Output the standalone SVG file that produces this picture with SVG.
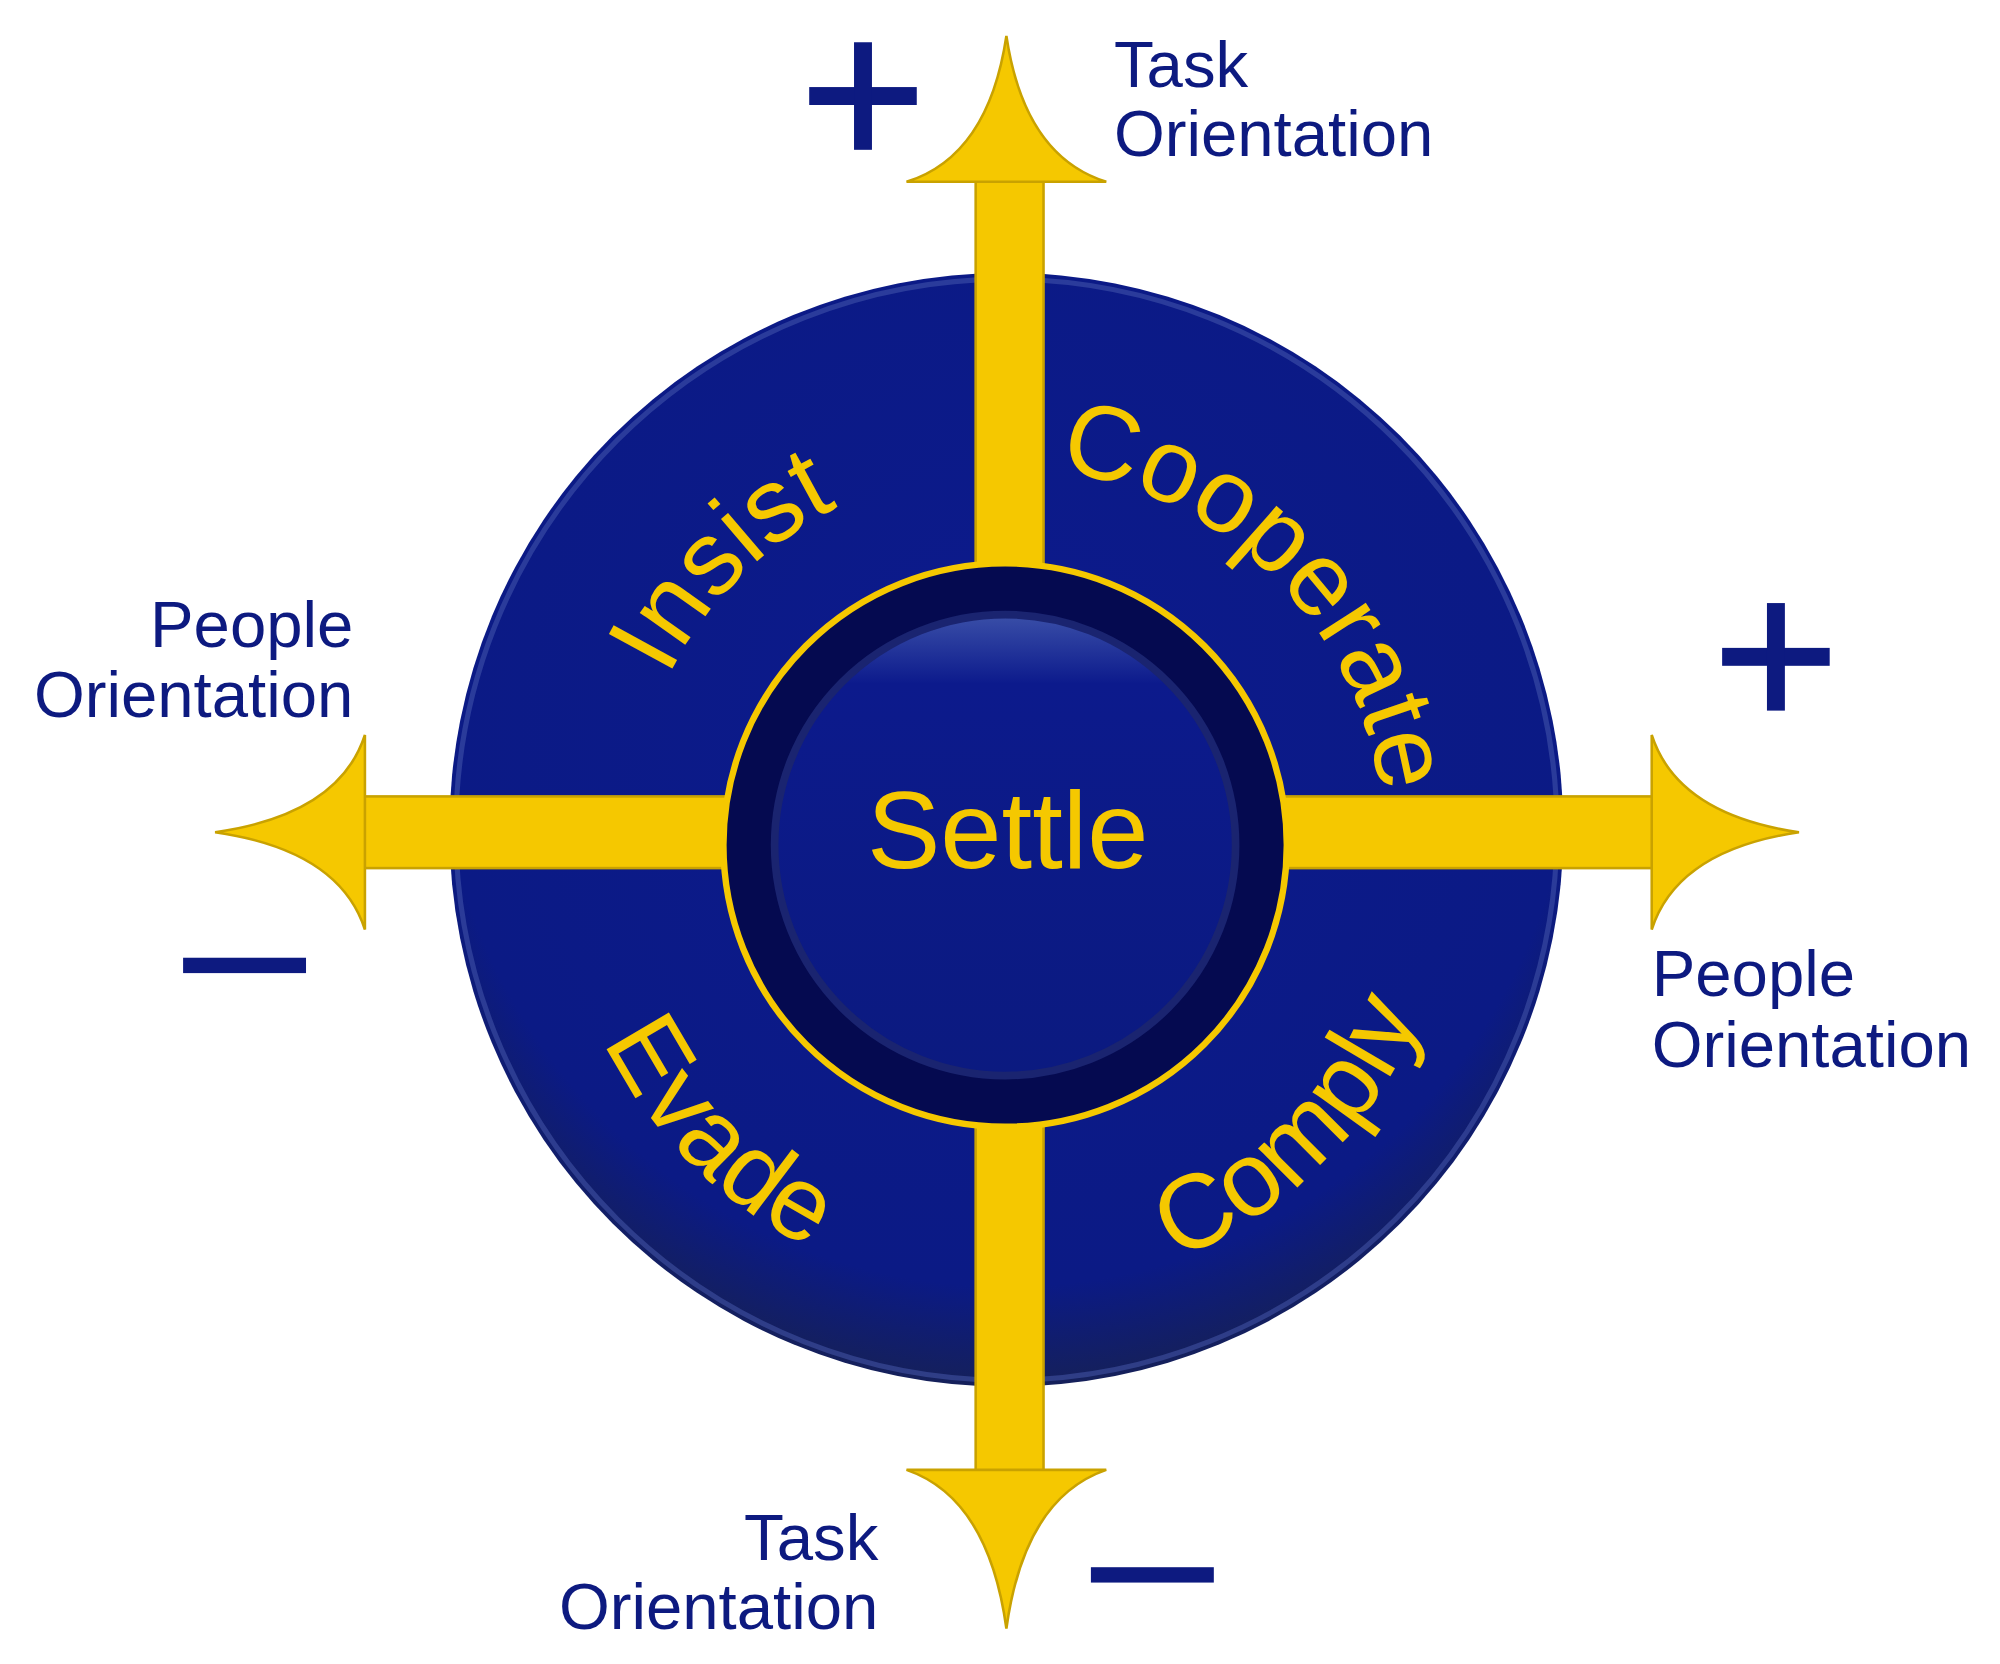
<svg xmlns="http://www.w3.org/2000/svg" width="2000" height="1664" viewBox="0 0 2000 1664">
<style>
.lbl{font-family:"Liberation Sans",Arial,sans-serif;font-size:51px;fill:#0d1a80}
.arc{font-family:"Liberation Sans",Arial,sans-serif;font-size:82px;fill:#f5c800}
.sign{fill:#0d1a80}
.yel{fill:#f5c800;stroke:#c9a200;stroke-width:2}
</style>
<defs>
<radialGradient id="disc" cx="50%" cy="40%" r="60%">
<stop offset="0" stop-color="#0c1a8c"/><stop offset="0.85" stop-color="#0b1a85"/><stop offset="1" stop-color="#15205a"/>
</radialGradient>
<linearGradient id="btn" x1="0" y1="0" x2="0" y2="1">
<stop offset="0" stop-color="#3a4fa8"/><stop offset="0.15" stop-color="#0c1a8c"/><stop offset="1" stop-color="#0b1a80"/>
</linearGradient>
<path id="pInsist" d="M491,660 A295,295 0 0 1 786,365"/>
<path id="pCoop" d="M786,365 A295,295 0 0 1 1081,660"/>
<path id="pEvade" d="M436,660 A350,350 0 0 0 786,1010"/>
<path id="pComply" d="M786,1010 A350,350 0 0 0 1136,660"/>
</defs>
<g transform="scale(1.2804)">
<g id="disc-node">
<circle cx="786" cy="648" r="435" fill="url(#disc)"/>
<circle cx="786" cy="648" r="430" fill="none" stroke="#4a5cb0" stroke-width="4" opacity="0.5"/>
</g>
<g id="connectors">
<rect class="yel" x="762" y="140" width="53" height="1012"/>
<rect class="yel" x="283" y="622" width="1010" height="56"/>
<path class="yel" d="M786,28 Q772,122 708,142 L864,142 Q800,122 786,28 Z"/>
<path class="yel" d="M786,1272 Q772,1170 708,1148 L864,1148 Q800,1170 786,1272 Z"/>
<path class="yel" d="M168,650 Q265,636 285,574 L285,726 Q265,664 168,650 Z"/>
<path class="yel" d="M1405,650 Q1310,636 1290,574 L1290,726 Q1310,664 1405,650 Z"/>
</g>
<g id="settle">
<circle cx="785" cy="660" r="220" fill="#050a50" stroke="#f5c800" stroke-width="5"/>
<circle cx="785" cy="660" r="180" fill="url(#btn)" stroke="#1a2470" stroke-width="6"/>
<text x="787" y="678" text-anchor="middle" style="font-family:'Liberation Sans',Arial,sans-serif;font-size:86px;fill:#f5c800">Settle</text>
</g>
<g id="insist"><text class="arc" text-anchor="middle"><textPath href="#pInsist" startOffset="50%">Insist</textPath></text></g>
<g id="cooperate"><text class="arc" text-anchor="middle"><textPath href="#pCoop" startOffset="50%">Cooperate</textPath></text></g>
<g id="evade"><text class="arc" text-anchor="middle"><textPath href="#pEvade" startOffset="50%">Evade</textPath></text></g>
<g id="comply"><text class="arc" text-anchor="middle"><textPath href="#pComply" startOffset="50%">Comply</textPath></text></g>
<g id="labels">
<text class="lbl" x="870" y="68">Task</text>
<text class="lbl" x="870" y="122">Orientation</text>
<text class="lbl" x="276" y="505" text-anchor="end">People</text>
<text class="lbl" x="276" y="560" text-anchor="end">Orientation</text>
<text class="lbl" x="1290" y="778">People</text>
<text class="lbl" x="1290" y="833">Orientation</text>
<text class="lbl" x="686" y="1218" text-anchor="end">Task</text>
<text class="lbl" x="686" y="1272" text-anchor="end">Orientation</text>
<rect class="sign" x="632" y="68" width="84" height="14"/>
<rect class="sign" x="667" y="33" width="14" height="84"/>
<rect class="sign" x="1345" y="506" width="84" height="14"/>
<rect class="sign" x="1380" y="471" width="14" height="84"/>
<rect class="sign" x="143" y="748" width="96" height="12"/>
<rect class="sign" x="852" y="1224" width="96" height="12"/>
</g>
</g>
</svg>
